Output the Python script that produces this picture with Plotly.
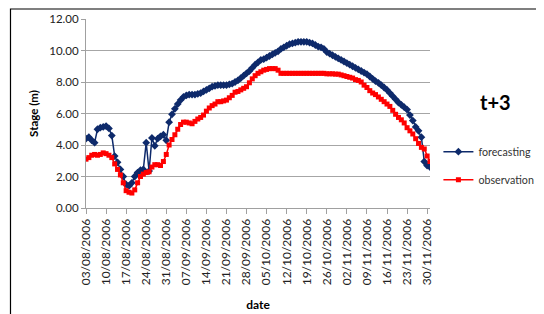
import plotly.graph_objects as go
import pandas as pd

start_date = "2006-08-03"
n_days = 121
dates = pd.date_range(start_date, periods=n_days, freq="D")

forecasting = [
    4.40, 4.50, 4.30, 4.15, 5.00, 5.10, 5.15, 5.20, 5.05, 4.60,
    3.30, 2.90, 2.45, 2.00, 1.50, 1.40, 1.60, 2.00, 2.25, 2.40,
    2.45, 4.15, 2.35, 4.45, 3.95, 4.40, 4.55, 4.65, 4.30, 5.45,
    5.95, 6.30, 6.60, 6.85, 7.05, 7.15, 7.20, 7.20, 7.20, 7.25,
    7.30, 7.40, 7.50, 7.60, 7.70, 7.75, 7.80, 7.80, 7.80, 7.80,
    7.85, 7.90, 8.00, 8.10, 8.25, 8.40, 8.55, 8.70, 8.90, 9.10,
    9.25, 9.40, 9.45, 9.55, 9.65, 9.75, 9.85, 9.95, 10.10, 10.20,
    10.30, 10.40, 10.45, 10.50, 10.55, 10.55, 10.55, 10.55, 10.50, 10.45,
    10.35, 10.25, 10.20, 10.10, 9.90, 9.80, 9.70, 9.60, 9.50, 9.40,
    9.30, 9.20, 9.10, 9.00, 8.90, 8.80, 8.70, 8.60, 8.50, 8.35,
    8.20, 8.05, 7.95, 7.80, 7.65, 7.50, 7.30, 7.10, 6.90, 6.70,
    6.55, 6.40, 6.25, 5.90, 5.55, 5.15, 4.90, 4.50, 2.95, 2.70,
    2.60,
]

observation = [
    3.10, 3.20, 3.35, 3.40, 3.35, 3.40, 3.50, 3.45, 3.35, 3.20,
    2.80, 2.45, 2.10, 1.60, 1.10, 1.00, 0.95, 1.15, 1.60, 2.00,
    2.15, 2.25, 2.30, 2.60, 2.75, 2.75, 2.70, 2.95, 3.40, 4.00,
    4.35, 4.65, 5.00, 5.30, 5.45, 5.45, 5.40, 5.35, 5.50, 5.65,
    5.75, 5.90, 6.15, 6.35, 6.50, 6.60, 6.75, 6.75, 6.80, 6.85,
    7.00, 7.15, 7.35, 7.40, 7.50, 7.60, 7.70, 7.95, 8.20, 8.40,
    8.55, 8.65, 8.75, 8.80, 8.85, 8.85, 8.85, 8.75, 8.55, 8.55,
    8.55, 8.55, 8.55, 8.55, 8.55, 8.55, 8.55, 8.55, 8.55, 8.55,
    8.55, 8.55, 8.55, 8.55, 8.52, 8.52, 8.52, 8.50, 8.50, 8.45,
    8.40, 8.35, 8.30, 8.25, 8.15, 8.10, 8.00, 7.80, 7.65, 7.45,
    7.30, 7.20, 7.05, 6.90, 6.75, 6.60, 6.45, 6.20, 5.95, 5.75,
    5.60, 5.40, 5.10, 4.90, 4.70, 4.40, 4.10, 3.85, 3.75, 3.30,
    2.95,
]

y_ticks = [0, 2, 4, 6, 8, 10, 12]

FONT = "Lato"
NAVY = "#0E2A6B"
RED = "#FF0000"

fig = go.Figure()
fig.add_trace(go.Scatter(
    x=dates, y=forecasting, name="forecasting", mode="lines+markers",
    line=dict(color=NAVY, width=1.5),
    marker=dict(symbol="diamond", size=6, color=NAVY),
    legendgroup="f",
))
fig.add_trace(go.Scatter(
    x=dates, y=observation, name="observation", mode="lines+markers",
    line=dict(color=RED, width=1.5),
    marker=dict(symbol="square", size=5, color=RED),
    legendgroup="o",
))

fig.update_layout(
    width=536, height=306,
    margin=dict(l=78, r=114, t=11, b=106),
    paper_bgcolor="white", plot_bgcolor="white",
    font=dict(family=FONT, size=11, color="#222222"),
    showlegend=True,
    legend=dict(
        xref="container", yref="container",
        x=0.803, y=0.578, xanchor="left", yanchor="top",
        font=dict(family=FONT, size=10.7, color="#333333"),
        tracegroupgap=9, itemwidth=30,
        bgcolor="rgba(0,0,0,0)", borderwidth=0,
    ),
    annotations=[
        dict(text="<b>t+3</b>", x=1.189, y=0.561, xref="paper", yref="paper",
             xanchor="center", yanchor="middle",
             showarrow=False, font=dict(family=FONT, size=20, color="black")),
    ],
    shapes=[
        dict(type="rect", xref="paper", yref="paper",
             x0=-0.2195, x1=1.5, y0=-0.8, y1=1.053,
             line=dict(color="black", width=1.2), fillcolor="rgba(0,0,0,0)"),
    ],
)

fig.update_xaxes(
    type="date", automargin=False,
    range=[dates[0], dates[-1]],
    tick0=start_date, dtick=7 * 24 * 3600 * 1000,
    tickformat="%d/%m/%Y", tickangle=-90,
    tickfont=dict(family=FONT, size=12, color="#222222"),
    showline=True, linecolor="#A0A0A0", linewidth=1,
    ticks="outside", ticklen=5, tickcolor="#A0A0A0",
    showgrid=False, zeroline=False,
    title=dict(text="<b>date</b>", font=dict(family=FONT, size=12, color="black"), standoff=16),
)
fig.update_yaxes(
    automargin=False,
    range=[0, 12], tickvals=y_ticks,
    ticktext=[f"{v:.2f}" for v in y_ticks],
    tickfont=dict(family=FONT, size=11.5, color="#222222"),
    showline=True, linecolor="#A0A0A0", linewidth=1,
    ticks="outside", ticklen=4, tickcolor="#A0A0A0",
    showgrid=True, gridcolor="#A6A6A6", gridwidth=1,
    zeroline=False,
    title=dict(text="<b>Stage (m)</b>", font=dict(family=FONT, size=11.5, color="black"), standoff=8),
)

fig.write_html("out.html")
